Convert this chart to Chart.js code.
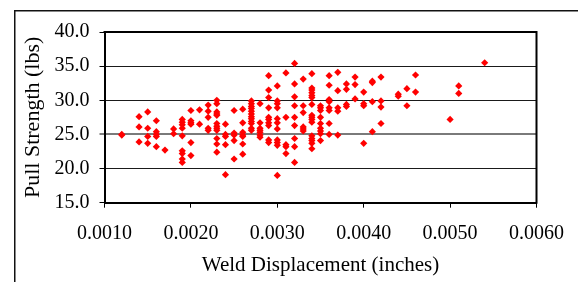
<!DOCTYPE html>
<html><head><meta charset="utf-8">
<script src="https://cdn.jsdelivr.net/npm/chart.js@4"></script>
<style>html,body{margin:0;padding:0;background:#fff;}canvas{display:block;}</style>
</head><body>
<canvas id="c" width="578" height="282"></canvas>
<script>
// Weld displacement columns (inches) and the pull strengths (lbs) read at each
const displacement = [0.0012,0.0014,0.0015,0.0016,0.0017,0.0018,0.0019,0.0020,0.0021,0.0022,
  0.0023,0.0024,0.0025,0.0026,0.0027,0.0028,0.0029,0.0030,0.0031,0.0032,0.0033,0.0034,0.0035,
  0.0036,0.0037,0.0038,0.0039,0.0040,0.0041,0.0042,0.0044,0.0045,0.0046,0.0050,0.0051,0.0054];
const strength = [
  [25.0,24.9],
  [27.6,26.1,23.9],
  [28.3,25.9,24.7,23.7],
  [27.0,25.4,25.0,24.7,23.2],
  [22.7],
  [25.8,25.1],
  [27.2,26.8,26.4,25.9,24.8,22.6,22.2,21.4,20.9],
  [28.5,27.0,26.7,26.5,23.8,21.9],
  [28.6,26.5],
  [29.3,28.4,27.5,25.9,25.6],
  [30.0,29.5,28.3,28.0,27.8,26.6,26.2,25.9,25.6,24.4,23.6,22.4],
  [26.5,25.0,24.7,23.5,19.1],
  [28.5,25.2,24.9,24.1,21.4],
  [28.7,26.7,25.3,24.9,24.7,23.6,22.1],
  [29.9,29.5,29.1,28.8,28.4,28.0,27.6,27.3,26.9,26.6,25.9,25.6],
  [29.5,26.7,25.9,25.6,25.3,24.9,24.6],
  [33.6,31.5,30.4,28.9,27.5,27.2,26.7,26.3,24.2,23.8],
  [32.1,29.9,29.5,28.9,27.3,26.7,25.8,24.2,23.8,23.4,19.0],
  [34.0,27.5,23.5,23.2,22.2],
  [35.4,32.4,30.5,29.2,27.5,26.3,24.4,23.2,20.9],
  [33.1,29.2,28.2,26.1,25.8,25.5],
  [33.9,31.8,31.5,31.1,30.7,30.4,29.4,27.8,27.5,27.2,26.8,24.8,24.4,24.1,23.7,22.9],
  [29.2,28.9,28.5,27.5,26.6,25.9,25.5,25.1,24.1],
  [33.6,32.2,30.1,29.8,28.9,28.5,26.6,25.0],
  [34.1,31.4,28.9,28.4,24.9],
  [32.4,31.6,29.4,29.1],
  [33.4,32.3,30.2],
  [31.2,29.5,29.2,23.7],
  [32.8,32.6,29.8,25.4],
  [33.4,29.9,29.0,26.6],
  [30.9,30.6],
  [31.7,29.2],
  [33.7,31.2],
  [27.2],
  [32.1,31.0],
  [35.5]
];
const xTickValues = [0.0010,0.0020,0.0030,0.0040,0.0050,0.0060];
const yTickValues = [15,20,25,30,35,40];
const xTitle = 'Weld Displacement (inches)';
const yTitle = 'Pull Strength (lbs)';

const points = [];
displacement.forEach((d, i) => strength[i].forEach(s => points.push({x: d, y: s})));

const frame = {
  id: 'frame',
  beforeDraw(chart) {
    const c = chart.ctx;
    c.save();
    c.fillStyle = '#fff';
    c.fillRect(0, 0, chart.width, chart.height);
    c.strokeStyle = '#111';
    c.lineWidth = 1.5;
    c.strokeRect(14.75, 10.75, 900, 600);
    c.restore();
  },
  afterDraw(chart) {
    const a = chart.chartArea, c = chart.ctx;
    c.save();
    c.strokeStyle = '#000';
    c.lineWidth = 2;
    c.beginPath();
    c.moveTo(a.left - 1, a.top);
    c.lineTo(a.right, a.top);
    c.lineTo(a.right, a.bottom + 1);
    c.stroke();
    c.restore();
  }
};

Chart.defaults.font.family = "'Liberation Serif','Times New Roman',serif";
Chart.defaults.color = '#000';

new Chart(document.getElementById('c'), {
  type: 'scatter',
  data: {
    datasets: [{
      data: points,
      pointStyle: 'rectRot',
      pointRadius: 3.6,
      pointHoverRadius: 3.6,
      backgroundColor: '#ff0000',
      borderWidth: 0
    }]
  },
  options: {
    responsive: false,
    animation: false,
    devicePixelRatio: 1,
    layout: {padding: {left: 0, top: 32, right: 40.7, bottom: 0}},
    plugins: {legend: {display: false}, tooltip: {enabled: false}},
    scales: {
      x: {
        type: 'linear',
        min: 0.001, max: 0.006,
        afterBuildTicks: s => { s.ticks = xTickValues.map(v => ({value: v})); },
        afterFit: s => { s.height = 79.3; },
        ticks: {
          font: {size: 20}, padding: 14, maxRotation: 0, autoSkip: false,
          callback: v => Number(v).toFixed(4)
        },
        grid: {drawOnChartArea: false, drawTicks: true, tickLength: 5, color: '#000', tickWidth: 1},
        border: {display: true, color: '#000', width: 2},
        title: {display: true, text: xTitle, font: {size: 21}, padding: {top: 0, bottom: 4}}
      },
      y: {
        type: 'linear',
        min: 15, max: 40,
        afterBuildTicks: s => { s.ticks = yTickValues.map(v => ({value: v})); },
        afterFit: s => { s.width = 104.5; },
        ticks: {
          font: {size: 20}, padding: 10,
          callback: v => Number(v).toFixed(1)
        },
        grid: {
          drawOnChartArea: true, drawTicks: true, tickLength: 5,
          color: c => (c.tick && c.tick.value === 25) ? '#7a7a7a' : '#1a1a1a',
          lineWidth: c => (c.tick && c.tick.value === 25) ? 2 : 1,
          tickColor: '#000', tickWidth: 1
        },
        border: {display: true, color: '#000', width: 2},
        title: {display: true, text: yTitle, font: {size: 22}, padding: {top: 20, bottom: 0}}
      }
    }
  },
  plugins: [frame]
});
</script>
</body></html>
